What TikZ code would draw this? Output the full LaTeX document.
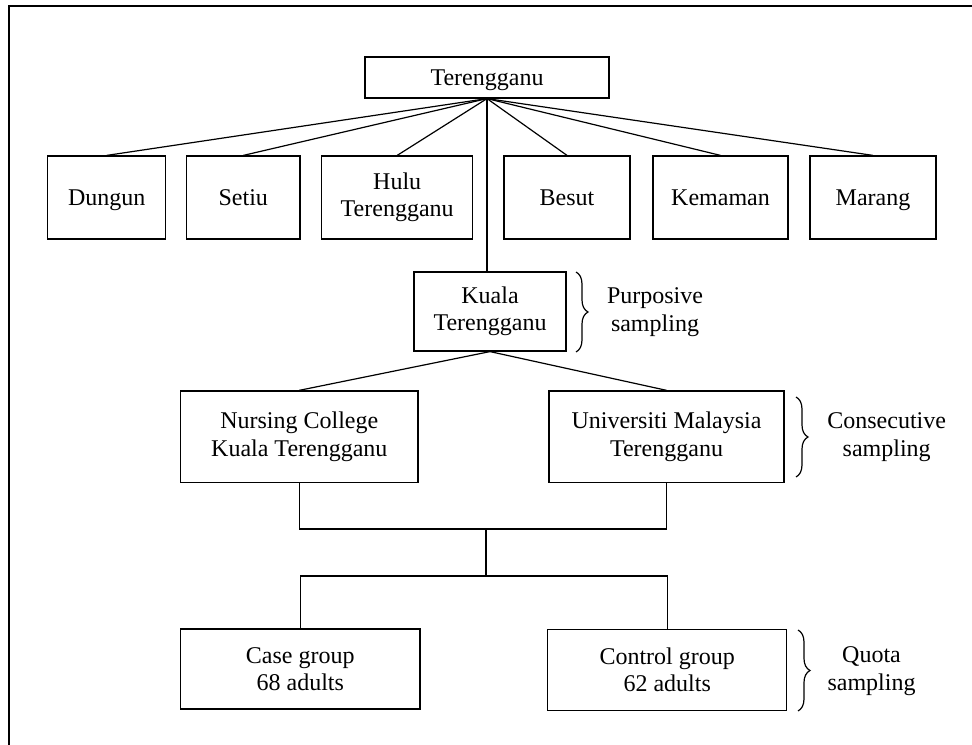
\documentclass[tikz,border=0pt]{standalone}
\usepackage{fontspec}
\setmainfont{Liberation Serif}
\usetikzlibrary{decorations.pathreplacing}

\tikzset{
	box/.style={draw, line width=0.9pt, inner sep=0pt, align=center, font=\fontsize{18}{20.5}\selectfont},
	single/.style={text height=12pt, text depth=0pt},
	lbl/.style={align=center, font=\fontsize{18}{20.5}\selectfont},
	sbrace/.style={draw, line width=0.9pt, decorate, decoration={brace, amplitude=9pt, aspect=0.5}}
}

\begin{document}
\begin{tikzpicture}[x=0.75pt,y=0.75pt,yscale=-1,xscale=1,line width=0.9pt]
			\useasboundingbox (0,0) rectangle (972,745);
			\draw (9,745) -- (9,6) -- (972,6);

			\node[box, single, minimum width=183pt, minimum height=30.75pt] (top) at (487,77.5) {Terengganu};

			\node[box, single, minimum width=88.5pt, minimum height=62.25pt] (dungun) at (106.7,197.5) {Dungun};
			\node[box, single, minimum width=85pt, minimum height=62.25pt] (setiu) at (243.3,197.5) {Setiu};
			\node[box, minimum width=113.25pt, minimum height=62.25pt] (hulu) at (397.2,197.5) {Hulu\\Terengganu};
			\node[box, single, minimum width=94.5pt, minimum height=62.25pt] (besut) at (567,197.5) {Besut};
			\node[box, single, minimum width=101.25pt, minimum height=62.25pt] (kemaman) at (720.5,197.5) {Kemaman};
			\node[box, single, minimum width=94.5pt, minimum height=62.25pt] (marang) at (873,197.5) {Marang};

			\node[box, minimum width=114pt, minimum height=59.25pt] (kuala) at (490,311.5) {Kuala\\Terengganu};

			\node[box, minimum width=178pt, minimum height=68.8pt] (nursing) at (299.3,436.8) {Nursing College\\Kuala Terengganu};
			\node[box, minimum width=176.25pt, minimum height=68.8pt] (umt) at (666.5,436.8) {Universiti Malaysia\\Terengganu};

			\node[box, minimum width=179.5pt, minimum height=60pt] (case) at (300.3,669) {Case group\\68 adults};
			\node[box, minimum width=179.25pt, minimum height=60.75pt] (control) at (667.2,670) {Control group\\62 adults};

			\draw (top.south) -- (dungun.north);
			\draw (top.south) -- (setiu.north);
			\draw (top.south) -- (hulu.north);
			\draw (top.south) -- (besut.north);
			\draw (top.south) -- (kemaman.north);
			\draw (top.south) -- (marang.north);
			\draw (top.south) -- (top.south |- kuala.north);

			\draw (kuala.south) -- (nursing.north);
			\draw (kuala.south) -- (umt.north);

			\coordinate (join1) at (486,529);
			\coordinate (join2) at (486,576);
			\draw (nursing.south) |- (join1) -| (umt.south);
			\draw (join1) -- (join2);
			\draw (case.north) |- (join2) -| (control.north);

			\coordinate (pb1) at (576,272);
			\coordinate (pb2) at (576,352);
			\coordinate (cb1) at (796,397);
			\coordinate (cb2) at (796,477);
			\coordinate (qb1) at (798,630);
			\coordinate (qb2) at (798,711);
			\draw[sbrace] (pb1) -- (pb2);
			\draw[sbrace] (cb1) -- (cb2);
			\draw[sbrace] (qb1) -- (qb2);

			\node[lbl] (purposive) at (655,312) {Purposive\\sampling};
			\node[lbl] (consecutive) at (886.7,437) {Consecutive\\sampling};
			\node[lbl] (quota) at (871.5,671) {Quota\\sampling};
			\end{tikzpicture}
\end{document}
